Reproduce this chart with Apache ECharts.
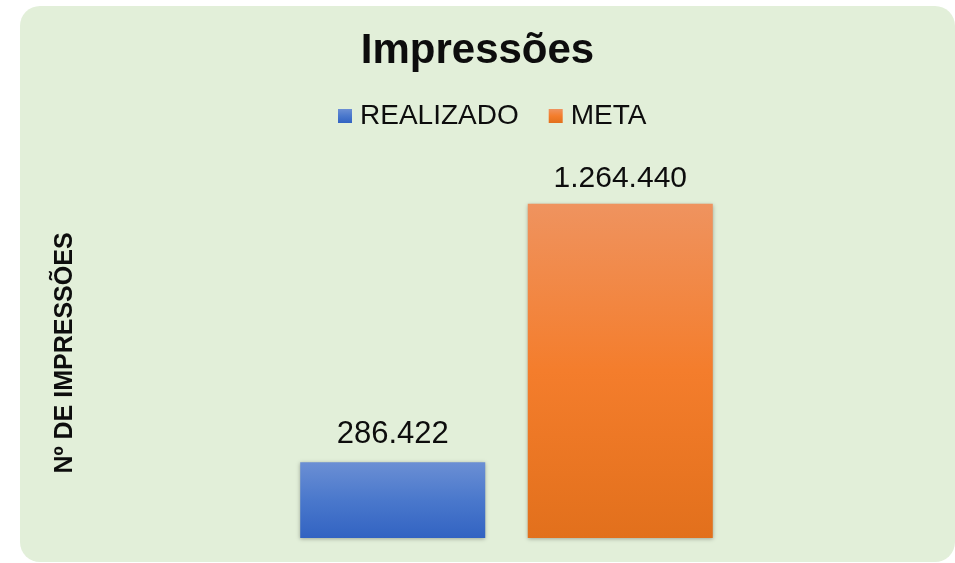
<!DOCTYPE html>
<html>
<head>
<meta charset="utf-8">
<script src="https://cdn.jsdelivr.net/npm/echarts@6/dist/echarts.min.js"></script>
<style>
  html, body { margin: 0; padding: 0; background: #fff; }
  #chart { width: 955px; height: 563px; }
</style>
</head>
<body>
<div id="chart"></div>
<script>
const categories = ['Impressões'];
const seriesNames = ['REALIZADO', 'META'];
const realizado = [286422];
const meta = [1264440];

const fmt = v => String(v).replace(/\B(?=(\d{3})+(?!\d))/g, '.');

const myChart = echarts.init(document.getElementById('chart'));

const barGradient = stops => new echarts.graphic.LinearGradient(0, 0, 0, 1,
  stops.map(([offset, color]) => ({ offset, color })));

const option = {
  backgroundColor: '#ffffff',
  textStyle: { fontFamily: 'Liberation Sans, Arial, sans-serif' },
  graphic: [{
    type: 'rect',
    z: -10,
    silent: true,
    shape: { x: 20, y: 6, width: 935, height: 556, r: 20 },
    style: { fill: '#e2efd9' }
  }],
  title: {
    text: 'Impressões',
    left: 'center',
    top: 30,
    padding: [0, 0, 0, 16],
    textStyle: { fontSize: 42, fontWeight: 'bold', color: '#0d0d0d' }
  },
  legend: {
    data: seriesNames,
    left: 338,
    top: 102,
    itemWidth: 14,
    itemHeight: 14,
    itemGap: 30,
    icon: 'rect',
    padding: 0,
    textStyle: { fontSize: 28, color: '#0d0d0d', padding: [0, 0, 0, 3] }
  },
  grid: { left: 100, right: 42, top: 168, bottom: 25 },
  xAxis: {
    type: 'category',
    data: categories,
    show: false
  },
  yAxis: {
    type: 'value',
    min: 0,
    max: 1400000,
    name: 'Nº DE IMPRESSÕES',
    nameLocation: 'middle',
    nameRotate: 90,
    nameGap: 22,
    nameTextStyle: { fontSize: 25, fontWeight: 'bold', color: '#0d0d0d' },
    axisLine: { show: false },
    axisTick: { show: false },
    axisLabel: { show: false },
    splitLine: { show: false }
  },
  series: [
    {
      name: seriesNames[0],
      type: 'bar',
      data: realizado,
      barWidth: 185,
      barGap: '23%',
      color: '#4472c4',
      itemStyle: {
        color: barGradient([[0, '#6b8fd4'], [0.5, '#4a78cc'], [1, '#3263c2']]),
        shadowBlur: 4,
        shadowColor: 'rgba(0,0,0,0.3)',
        shadowOffsetY: 1
      },
      label: {
        show: true,
        position: 'top',
        distance: 12,
        fontSize: 31,
        color: '#0d0d0d',
        formatter: p => fmt(p.value)
      }
    },
    {
      name: seriesNames[1],
      type: 'bar',
      data: meta,
      barWidth: 185,
      color: '#ed7d31',
      itemStyle: {
        color: barGradient([[0, '#ef935f'], [0.5, '#f47d2c'], [1, '#e2701c']]),
        shadowBlur: 4,
        shadowColor: 'rgba(0,0,0,0.3)',
        shadowOffsetY: 1
      },
      label: {
        show: true,
        position: 'top',
        distance: 10,
        fontSize: 30,
        color: '#0d0d0d',
        formatter: p => fmt(p.value)
      }
    }
  ]
};

myChart.setOption(option);
</script>
</body>
</html>
